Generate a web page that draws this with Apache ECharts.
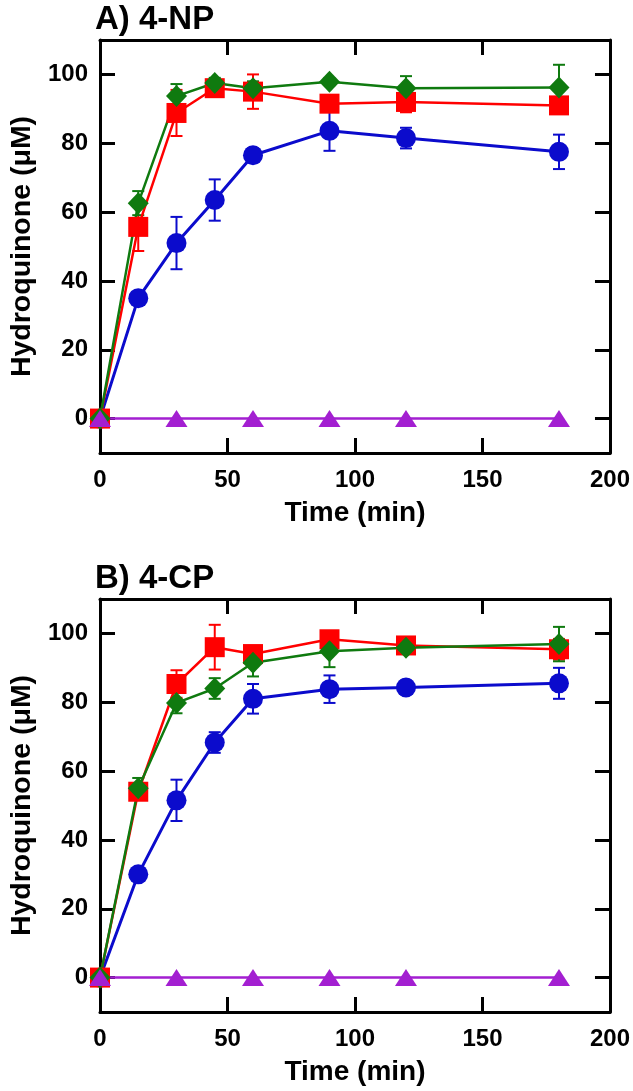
<!DOCTYPE html>
<html>
<head>
<meta charset="utf-8">
<script src="https://cdn.jsdelivr.net/npm/echarts@6/dist/echarts.min.js"></script>
<style>
  html, body { margin: 0; padding: 0; background: #fff; }
  #main { width: 633px; height: 1091px; }
</style>
</head>
<body>
<div id="main"></div>
<script>
// time points (min)
var times = [0, 15, 30, 45, 60, 90, 120, 180];
var purpleTimes = [0, 30, 60, 90, 120, 180];
var yTicks = [0, 20, 40, 60, 80, 100];

// A) 4-NP
var npBlue = [0, 35, 51, 63.5, 76.5, 83.6, 81.5, 77.5];
var npBlueErr = [0, 1, 7.6, 6, 2, 5.8, 3, 5];
var npRed = [0, 55.7, 88.8, 96, 95, 91.5, 92, 91];
var npRedErr = [0, 7, 6.7, 2, 5, 2, 3, 1];
var npGreen = [0, 62.6, 93.7, 97.5, 96, 97.9, 96, 96.2];
var npGreenErr = [0, 3.5, 3.5, 1.5, 2, 1, 3.5, 6.6];
var npPurple = [0, 0, 0, 0, 0, 0];

// B) 4-CP
var cpBlue = [0, 30, 51.5, 68.3, 81, 83.8, 84.3, 85.5];
var cpBlueErr = [0, 1.5, 6, 3, 4.3, 4, 2, 4.5];
var cpRed = [0, 54, 85.3, 96, 94, 98.3, 96.5, 95.4];
var cpRedErr = [0, 2, 4, 6.5, 1, 1, 1, 3];
var cpGreen = [0, 55, 79.8, 84, 91.5, 94.8, 95.8, 96.9];
var cpGreenErr = [0, 3, 3, 3, 4, 4.6, 1.5, 5];
var cpPurple = [0, 0, 0, 0, 0, 0];

var FONT = 'Liberation Sans, Arial, sans-serif';
var BLUE = '#0b0bcc', RED = '#ff0000', GREEN = '#0f7a0f', PURPLE = '#a31fd1';

var chart = echarts.init(document.getElementById('main'), null, { renderer: 'canvas' });

function pairs(xs, ys) {
  return xs.map(function (x, i) { return [x, ys[i]]; });
}
function errPairs(xs, ys, es) {
  var out = [];
  xs.forEach(function (x, i) { if (es[i] > 0) out.push([x, ys[i], es[i]]); });
  return out;
}

function errSeries(gi, data, color) {
  return {
    type: 'custom',
    xAxisIndex: gi * 2, yAxisIndex: gi * 2,
    z: 1,
    clip: false,
    encode: { x: 0, y: 1 },
    data: data,
    renderItem: function (params, api) {
      var x = api.value(0), y = api.value(1), e = api.value(2);
      var hi = api.coord([x, y + e]);
      var lo = api.coord([x, y - e]);
      var w = 6;
      var st = { stroke: color, lineWidth: 2 };
      return {
        type: 'group',
        children: [
          { type: 'line', shape: { x1: hi[0], y1: hi[1], x2: lo[0], y2: lo[1] }, style: st },
          { type: 'line', shape: { x1: hi[0] - w, y1: hi[1], x2: hi[0] + w, y2: hi[1] }, style: st },
          { type: 'line', shape: { x1: lo[0] - w, y1: lo[1], x2: lo[0] + w, y2: lo[1] }, style: st }
        ]
      };
    }
  };
}

function lineSeries(gi, data, color, symbol, size, width) {
  return {
    type: 'line',
    xAxisIndex: gi * 2, yAxisIndex: gi * 2,
    data: data,
    z: 3,
    clip: false,
    symbol: symbol,
    symbolSize: size,
    itemStyle: { color: color },
    lineStyle: { color: color, width: width }
  };
}

function axesFor(gi) {
  var line = { onZero: false, lineStyle: { color: '#000', width: 3 } };
  var tick = { inside: true, length: 15, lineStyle: { color: '#000', width: 3 } };
  var xs = [
    {
      type: 'value', gridIndex: gi, position: 'bottom', min: 0, max: 200, interval: 50,
      name: 'Time (min)', nameLocation: 'middle', nameGap: 46,
      nameTextStyle: { fontFamily: FONT, fontWeight: 'bold', fontSize: 28, color: '#000' },
      axisLine: line, axisTick: tick, splitLine: { show: false },
      axisLabel: { margin: 15, fontFamily: FONT, fontWeight: 'bold', fontSize: 24, color: '#000' }
    },
    {
      type: 'value', gridIndex: gi, position: 'top', min: 0, max: 200, interval: 50,
      axisLine: line, axisTick: tick, splitLine: { show: false }, axisLabel: { show: false }
    }
  ];
  var ys = [
    {
      type: 'value', gridIndex: gi, position: 'left', min: -10, max: 110,
      name: 'Hydroquinone (\u03BCM)', nameLocation: 'middle', nameGap: 63,
      nameTextStyle: { fontFamily: FONT, fontWeight: 'bold', fontSize: 28.5, color: '#000' },
      axisLine: line,
      axisTick: { inside: true, length: 15, lineStyle: { color: '#000', width: 3 }, customValues: yTicks },
      splitLine: { show: false },
      axisLabel: { margin: 12, fontFamily: FONT, fontWeight: 'bold', fontSize: 24, color: '#000', customValues: yTicks }
    },
    {
      type: 'value', gridIndex: gi, position: 'right', min: -10, max: 110,
      axisLine: line,
      axisTick: { inside: true, length: 15, lineStyle: { color: '#000', width: 3 }, customValues: yTicks },
      splitLine: { show: false }, axisLabel: { show: false }
    }
  ];
  return { x: xs, y: ys };
}

var a0 = axesFor(0), a1 = axesFor(1);

function panelSeries(gi, blue, blueErr, red, redErr, green, greenErr, purple) {
  return [
    errSeries(gi, errPairs(times, blue, blueErr), BLUE),
    errSeries(gi, errPairs(times, red, redErr), RED),
    errSeries(gi, errPairs(times, green, greenErr), GREEN),
    lineSeries(gi, pairs(times, blue), BLUE, 'circle', 20, 3),
    lineSeries(gi, pairs(times, red), RED, 'rect', 20, 2.5),
    lineSeries(gi, pairs(times, green), GREEN, 'diamond', [21, 22], 2.5),
    lineSeries(gi, pairs(purpleTimes, purple), PURPLE, 'triangle', [22, 17], 2.5)
  ];
}

var option = {
  animation: false,
  backgroundColor: '#fff',
  grid: [
    { left: 95, top: 40, width: 515, height: 413 },
    { left: 95, top: 599, width: 515, height: 413 }
  ],
  xAxis: a0.x.concat(a1.x),
  yAxis: a0.y.concat(a1.y),
  graphic: [
    { type: 'text', left: 95, top: 3, style: { text: 'A) 4-NP', fill: '#000', font: 'bold 33px ' + FONT } },
    { type: 'text', left: 95, top: 562, style: { text: 'B) 4-CP', fill: '#000', font: 'bold 33px ' + FONT } }
  ],
  series: panelSeries(0, npBlue, npBlueErr, npRed, npRedErr, npGreen, npGreenErr, npPurple)
    .concat(panelSeries(1, cpBlue, cpBlueErr, cpRed, cpRedErr, cpGreen, cpGreenErr, cpPurple))
};

chart.setOption(option);
</script>
</body>
</html>
